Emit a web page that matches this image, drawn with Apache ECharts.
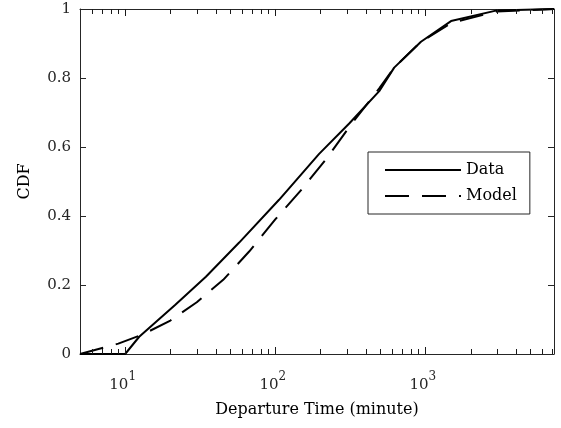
<!DOCTYPE html>
<html>
<head>
<meta charset="utf-8">
<title>Departure Time CDF</title>
<script src="https://cdn.jsdelivr.net/npm/echarts@6/dist/echarts.min.js"></script>
<style>
  html, body { margin: 0; padding: 0; background: #fff; }
  #chart { width: 561px; height: 428px; }
</style>
</head>
<body>
<div id="chart"></div>
<script>
// departure time (minutes) and cumulative share
const dataTime = [5, 10, 12.4, 21.5, 34.5, 57.5, 106, 196, 311, 493, 620, 935, 1483, 3000, 7200]
const dataCdf = [0, 0, 0.05, 0.142, 0.224, 0.323, 0.447, 0.58, 0.668, 0.762, 0.83, 0.905, 0.965, 0.996, 1.0]

const modelTime = [5, 9, 13, 20, 30, 45, 67, 100, 150, 220, 320, 493, 620, 935, 1500, 3000, 7200]
const modelCdf = [0, 0.03, 0.056, 0.097, 0.15, 0.215, 0.297, 0.39, 0.477, 0.567, 0.665, 0.77, 0.83, 0.905, 0.96, 0.993, 1.0]

const xMin = 5
const xMax = 7200
const yTicks = [0, 0.2, 0.4, 0.6, 0.8, 1]
// log ticks on the x edges: decades and 2..9 x each decade
const majorTicks = [10, 100, 1000]
const minorTicks = [6, 7, 8, 9, 20, 30, 40, 50, 60, 70, 80, 90,
  200, 300, 400, 500, 600, 700, 800, 900, 2000, 3000, 4000, 5000, 6000, 7000]

const axisColor = '#262626'
const fontFamily = 'DejaVu Serif'

const chart = echarts.init(document.getElementById('chart'))

function pairs(xs, ys) {
  return xs.map((x, i) => [x, ys[i]])
}

function supLabel(v) {
  const e = Math.round(Math.log10(v))
  if (Math.abs(Math.pow(10, e) - v) > 1e-6 * v) return ''
  return '{b|10}{s|' + e + '}'
}

const tickStyle = { show: true, inside: true, length: 6, lineStyle: { color: axisColor, width: 1 } }

// tick list for the custom series: [value, length]
const xTickData = majorTicks.map((v) => [v, 7]).concat(minorTicks.map((v) => [v, 5]))

const option = {
  animation: false,
  backgroundColor: '#fff',
  textStyle: { fontFamily: fontFamily },
  grid: { left: 80, right: 7, top: 9, bottom: 74, outerBoundsMode: 'none', containLabel: false },
  legend: {
    data: ['Data', 'Model'],
    orient: 'vertical',
    left: 368,
    top: 152,
    itemWidth: 76,
    itemHeight: 14,
    itemGap: 10,
    padding: [10, 13, 10, 16],
    borderColor: '#262626',
    borderWidth: 1,
    backgroundColor: '#fff',
    itemStyle: { color: 'rgba(0,0,0,0)', borderColor: 'rgba(0,0,0,0)', borderWidth: 0, opacity: 0 },
    textStyle: { fontFamily: fontFamily, fontSize: 16, color: '#000' },
  },
  xAxis: [
    {
      type: 'log',
      logBase: 10,
      min: xMin,
      max: xMax,
      position: 'bottom',
      name: 'Departure Time (minute)',
      nameLocation: 'middle',
      nameGap: 48,
      nameTextStyle: { fontFamily: fontFamily, fontSize: 16, color: '#000' },
      axisLine: { show: true, onZero: false, lineStyle: { color: axisColor, width: 1 } },
      axisTick: { show: false },
      splitLine: { show: false },
      axisLabel: {
        margin: 17,
        formatter: supLabel,
        color: axisColor,
        rich: {
          b: { fontFamily: fontFamily, fontSize: 15, lineHeight: 22, verticalAlign: 'bottom', color: axisColor },
          s: { fontFamily: fontFamily, fontSize: 12, lineHeight: 12, verticalAlign: 'top', color: axisColor, padding: [0, 5, 0, 0] },
        },
      },
    },
    {
      type: 'log',
      logBase: 10,
      min: xMin,
      max: xMax,
      position: 'top',
      axisLine: { show: true, onZero: false, lineStyle: { color: axisColor, width: 1 } },
      axisTick: { show: false },
      axisLabel: { show: false },
      splitLine: { show: false },
    },
  ],
  yAxis: [
    {
      type: 'value',
      min: 0,
      max: 1,
      interval: 0.2,
      position: 'left',
      name: 'CDF',
      nameLocation: 'middle',
      nameGap: 47,
      nameTextStyle: { fontFamily: fontFamily, fontSize: 16, color: '#000' },
      axisLine: { show: true, onZero: false, lineStyle: { color: axisColor, width: 1 } },
      axisTick: tickStyle,
      splitLine: { show: false },
      axisLabel: {
        margin: 9,
        fontFamily: fontFamily,
        fontSize: 15,
        color: axisColor,
        formatter: (v) => (yTicks.indexOf(+v.toFixed(1)) >= 0 ? String(+v.toFixed(1)) : ''),
      },
    },
    {
      type: 'value',
      min: 0,
      max: 1,
      interval: 0.2,
      position: 'right',
      axisLine: { show: true, onZero: false, lineStyle: { color: axisColor, width: 1 } },
      axisTick: tickStyle,
      axisLabel: { show: false },
      splitLine: { show: false },
    },
  ],
  series: [
    {
      name: 'Data',
      type: 'line',
      xAxisIndex: 0,
      yAxisIndex: 0,
      data: pairs(dataTime, dataCdf),
      symbol: 'none',
      showSymbol: false,
      lineStyle: { color: '#000', width: 2, type: 'solid' },
      itemStyle: { color: '#000' },
      z: 3,
    },
    {
      name: 'Model',
      type: 'line',
      xAxisIndex: 0,
      yAxisIndex: 0,
      data: pairs(modelTime, modelCdf),
      symbol: 'none',
      showSymbol: false,
      lineStyle: { color: '#000', width: 2, type: [24, 13] },
      itemStyle: { color: '#000' },
      z: 3,
    },
    {
      // log ticks on bottom and top edges
      name: 'ticks',
      type: 'custom',
      xAxisIndex: 0,
      yAxisIndex: 0,
      silent: true,
      clip: false,
      data: xTickData,
      encode: { x: 0 },
      renderItem(params, api) {
        const v = api.value(0)
        const len = api.value(1)
        const b = api.coord([v, 0])
        const t = api.coord([v, 1])
        const x = Math.round(b[0]) + 0.5
        const st = { stroke: '#1a1a1a', lineWidth: 1 }
        return {
          type: 'group',
          children: [
            { type: 'line', shape: { x1: x, y1: b[1], x2: x, y2: b[1] - len }, style: st },
            { type: 'line', shape: { x1: x, y1: t[1], x2: x, y2: t[1] + len }, style: st },
          ],
        }
      },
      z: 4,
    },
  ],
}

chart.setOption(option)
</script>
</body>
</html>
